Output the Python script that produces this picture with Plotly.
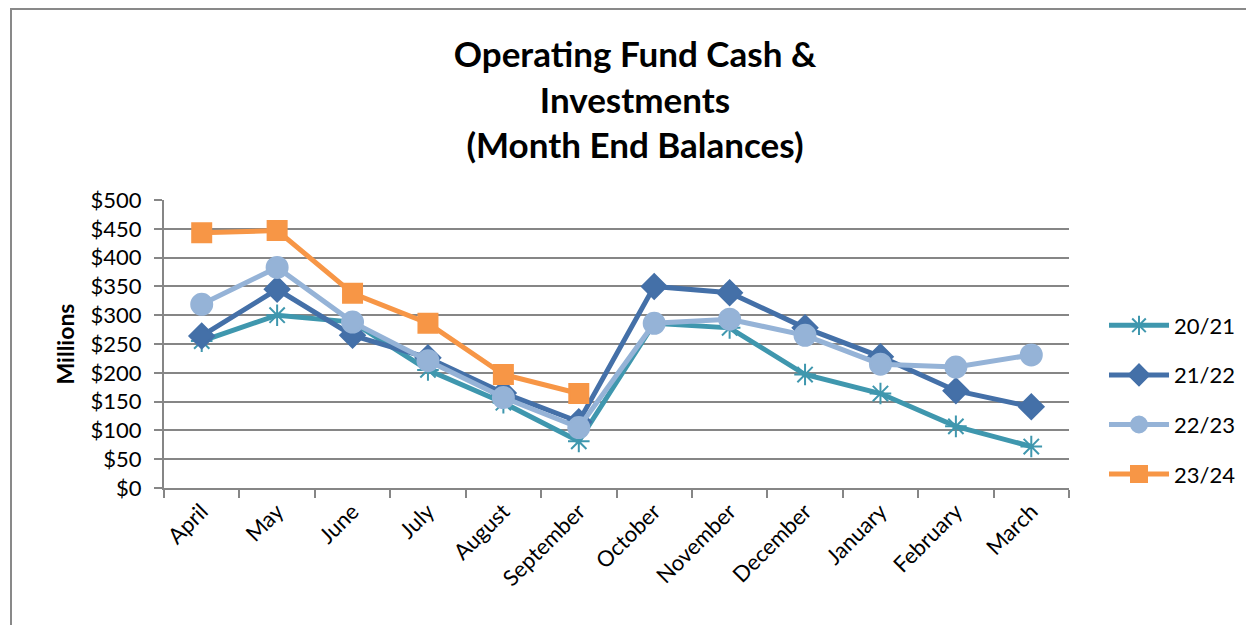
import plotly.graph_objects as go

months = ["April", "May", "June", "July", "August", "September", "October",
          "November", "December", "January", "February", "March"]
s2021 = [255, 300, 288, 205, 148, 81, 286, 278, 197, 164, 107, 72]
s2122 = [264, 345, 265, 226, 165, 115, 350, 339, 278, 228, 169, 141]
s2223 = [319, 383, 288, 221, 157, 105, 286, 293, 265, 215, 210, 231]
s2324 = [443, 447, 338, 286, 197, 164]
series_names = ["20/21", "21/22", "22/23", "23/24"]
y_ticks = [0, 50, 100, 150, 200, 250, 300, 350, 400, 450, 500]

colors = ["#3F97AE", "#4470A8", "#95B3D7", "#F79646"]
symbols = ["asterisk-open", "diamond", "circle", "square"]
sizes = [18, 19, 21, 19]

fig = go.Figure()
for name, vals, c, sym, sz in zip(series_names, [s2021, s2122, s2223, s2324], colors, symbols, sizes):
    fig.add_trace(go.Scatter(
        x=months[:len(vals)], y=vals, name=name, mode="lines+markers",
        line=dict(color=c, width=5),
        marker=dict(symbol=sym, size=sz, color=c, line=dict(color=c, width=2)),
        legendgroup=name,
    ))

FONT = "Lato"
L, R, T, B = 156, 193, 192, 145
PW, PH = 1254 - L - R, 625 - T - B
fig.update_layout(
    width=1254, height=625,
    margin=dict(l=L, r=R, t=T, b=B),
    paper_bgcolor="white", plot_bgcolor="white",
    font=dict(family=FONT, color="black", size=21),
    title=dict(text="<b>Operating Fund Cash &<br>Investments<br>(Month End Balances)</b>",
               x=(635 - 8) / 1254, xanchor="center", y=1 - 59 / 625, yanchor="top",
               font=dict(size=35, family=FONT, color="black")),
    showlegend=True,
    legend=dict(x=(1096 - L) / PW, y=(625 - B - 392) / PH, xanchor="left", yanchor="middle",
                font=dict(size=22, family=FONT), tracegroupgap=18,
                itemwidth=60, bgcolor="rgba(0,0,0,0)"),
    xaxis=dict(categoryorder="array", categoryarray=months, range=[-0.5, 11.5],
               tickangle=-45, showline=True, linecolor="#868686", linewidth=2,
               ticks="outside", ticklen=8, tickcolor="#868686", tickwidth=2,
               tickson="boundaries", showgrid=False, tickfont=dict(size=22)),
    yaxis=dict(range=[0, 500], tickvals=y_ticks,
               ticktext=["$" + str(v) for v in y_ticks],
               showline=True, linecolor="#868686", linewidth=2,
               ticks="outside", ticklen=8, tickcolor="#868686", tickwidth=2,
               ticklabelstandoff=8,
               showgrid=True, gridcolor="#868686", gridwidth=2, zeroline=False,
               tickfont=dict(size=22),
               title=dict(text="<b>Millions</b>", font=dict(size=23), standoff=10)),
    shapes=[dict(type="rect", xref="paper", yref="paper",
                 x0=(3 - L) / PW, x1=1.4, y0=-0.8, y1=(625 - B - 1) / PH,
                 line=dict(color="#898989", width=2), layer="below")],
)

fig.write_html("out.html")
